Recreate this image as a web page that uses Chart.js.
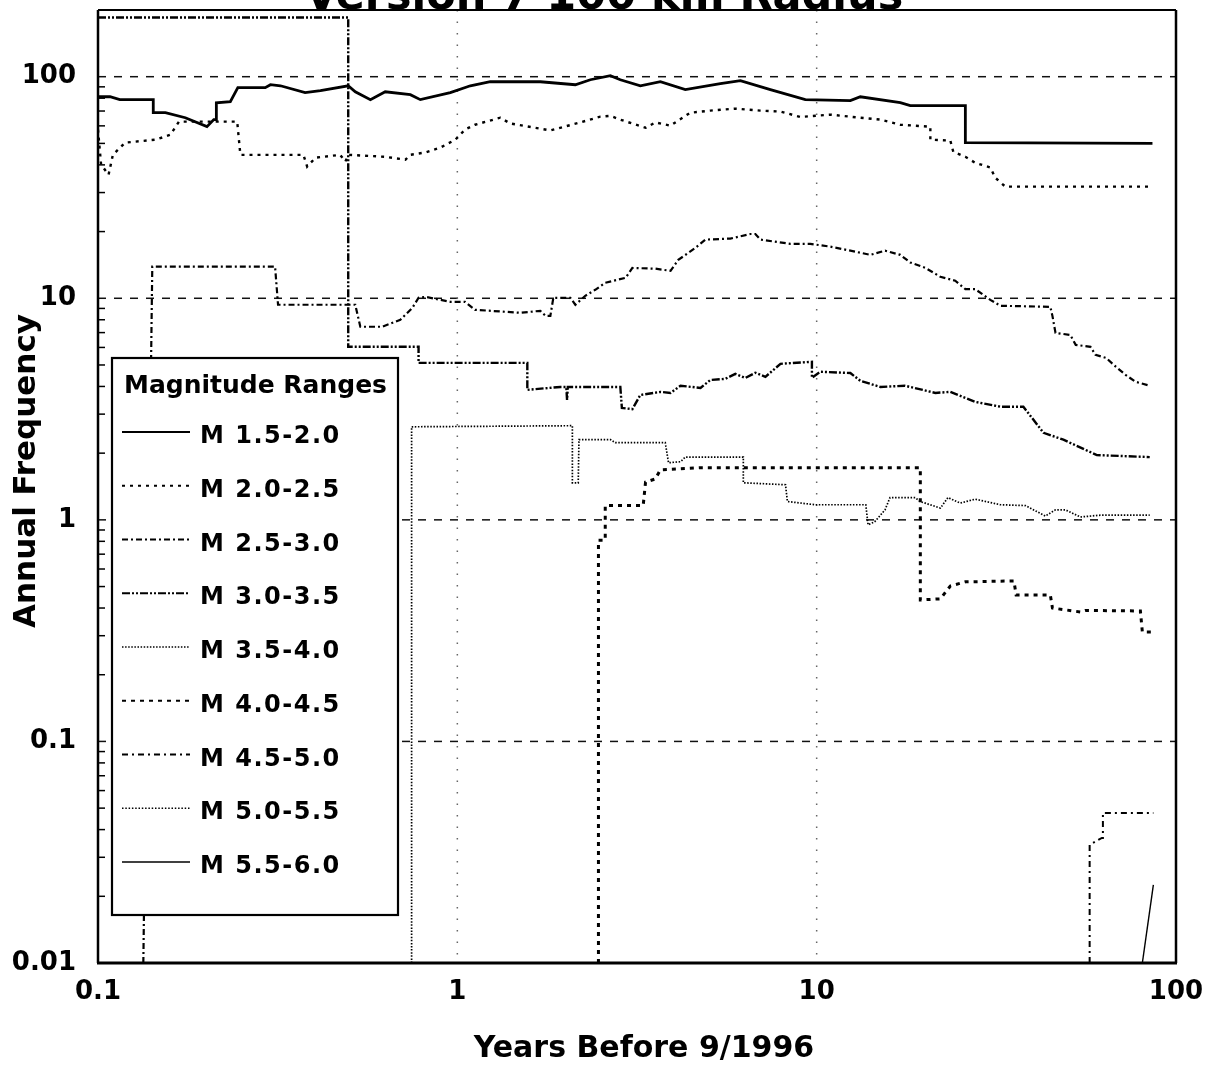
<!DOCTYPE html>
<html>
<head>
<meta charset="utf-8">
<script src="https://cdn.jsdelivr.net/npm/chart.js@4/dist/chart.umd.min.js"></script>
<style>
  html, body { margin: 0; background: #fff; }
  canvas { display: block; }
</style>
</head>
<body>
<canvas id="frecuencia_anual" width="1222" height="1066"></canvas>
<script>
// Years before 9/1996 vs annual frequency, one list of [years, frequency] per band
const m15 = [[0.1, 81.2], [0.108, 81.2], [0.115, 78.8], [0.1425, 78.8], [0.1425, 68.8], [0.154, 68.8], [0.175, 65.3],
  [0.201, 59.5], [0.21, 64], [0.2135, 64], [0.2135, 76.3], [0.2335, 77.1], [0.245, 89.2], [0.292, 89.2], [0.302, 92],
  [0.322, 91], [0.377, 84.7], [0.416, 86.5], [0.497, 91], [0.52, 85.5], [0.573, 78.8], [0.63, 85.5], [0.74, 83],
  [0.789, 78.8], [0.956, 84.7], [1.087, 91], [1.235, 94.9], [1.702, 94.9], [2.13, 92], [2.345, 96.9], [2.666, 101],
  [2.842, 96.9], [3.231, 91], [3.673, 94.9], [4.31, 87.4], [5.395, 93], [6.133, 96], [7.433, 87.4], [9.3, 78.8],
  [12.41, 78], [13.23, 81.2], [17.09, 76.3], [18.22, 74], [25.93, 74], [25.93, 50.4], [86, 50]];
const m20 = [[0.1, 57.7], [0.102, 40.1], [0.107, 36.1], [0.11, 44.4], [0.119, 50.4], [0.145, 52], [0.159, 54.7],
  [0.168, 62.7], [0.244, 62.7], [0.249, 44.4], [0.373, 44.4], [0.382, 39.3], [0.403, 43.1], [0.472, 44.4],
  [0.488, 41.4], [0.497, 44.4], [0.63, 43.5], [0.717, 42.2], [0.74, 44.4], [0.815, 45.5], [0.897, 47.9], [0.988, 52],
  [1.05, 57.7], [1.12, 60.7], [1.317, 65.3], [1.404, 61.5], [1.815, 57.2], [2.199, 62.2], [2.5, 66], [2.666, 66.6],
  [2.842, 64], [3.34, 58.8], [3.56, 62.2], [3.916, 60.1], [4.451, 68.8], [5.06, 70.3], [5.94, 71.8], [6.97, 70.3],
  [7.93, 69.6], [9.01, 65.8], [10.92, 67.4], [13.23, 65.3], [15.04, 64], [17.09, 60.7], [20.72, 59.5], [20.72, 52],
  [23.55, 51.5], [24, 45.8], [25.93, 43.5], [27.6, 40.9], [30.43, 38.9], [31.4, 35], [33.5, 31.9], [85, 31.9]];
const m25 = [[0.1337, 0.01], [0.1416, 13.9], [0.311, 13.9], [0.317, 9.35], [0.52, 9.35], [0.537, 7.44], [0.618, 7.44],
  [0.694, 8.0], [0.75, 9.06], [0.78, 10.05], [0.815, 10.15], [0.956, 9.64], [1.05, 9.64], [1.12, 8.87], [1.497, 8.6],
  [1.702, 8.78], [1.76, 8.33], [1.815, 8.33], [1.85, 10.05], [2.063, 10.05], [2.13, 9.35], [2.27, 10.26],
  [2.42, 10.92], [2.58, 11.75], [2.94, 12.37], [3.07, 13.7], [3.56, 13.6], [3.92, 13.3], [4.12, 14.9], [4.6, 16.9],
  [4.9, 18.4], [5.75, 18.6], [6.54, 19.5], [6.75, 19.5], [6.97, 18.4], [8.45, 17.6], [9.6, 17.6], [10.92, 17.1],
  [12.41, 16.4], [14.1, 15.7], [15.5, 16.4], [17.09, 15.7], [18.22, 14.5], [20.1, 13.7], [22.09, 12.5], [24.3, 12.0],
  [25.93, 11.0], [27.6, 11.0], [30.43, 9.84], [32.45, 9.25], [44.7, 9.15], [45.3, 8.33], [46.2, 6.98], [50.8, 6.83],
  [52.6, 6.16], [57.8, 6.04], [59.7, 5.56], [63.9, 5.38], [68.1, 4.9], [72.4, 4.51], [77.1, 4.2], [84.5, 4.03]];
const m30 = [[0.1, 185], [0.497, 185], [0.497, 6.04], [0.78, 6.04], [0.78, 5.11], [1.566, 5.11], [1.566, 3.86],
  [1.935, 3.98], [2.01, 3.98], [2.02, 3.48], [2.03, 3.98], [2.842, 3.98], [2.87, 3.2], [3.07, 3.16], [3.23, 3.66],
  [3.67, 3.78], [3.92, 3.74], [4.18, 4.03], [4.75, 3.94], [5.06, 4.28], [5.57, 4.33], [5.94, 4.56], [6.33, 4.37],
  [6.75, 4.61], [7.2, 4.42], [7.93, 5.06], [9.7, 5.17], [9.7, 4.38], [10.24, 4.66], [12.41, 4.6], [13.23, 4.24],
  [15.04, 3.98], [17.6, 4.03], [21.4, 3.74], [23.55, 3.78], [27.6, 3.41], [32.45, 3.24], [37.6, 3.24], [42.8, 2.47],
  [48.6, 2.3], [60.2, 1.96], [84.5, 1.92]];
const m35 = [[0.746, 0.01], [0.746, 2.63], [2.09, 2.66], [2.09, 1.47], [2.17, 1.47], [2.18, 2.3], [2.67, 2.3],
  [2.75, 2.23], [3.79, 2.23], [3.87, 1.81], [4.18, 1.83], [4.31, 1.92], [6.25, 1.92], [6.25, 1.47], [8.19, 1.44],
  [8.29, 1.21], [9.9, 1.17], [13.7, 1.17], [13.9, 0.95], [14.5, 0.98], [15.5, 1.11], [16.0, 1.26], [18.8, 1.26],
  [19.4, 1.21], [22.1, 1.13], [23.2, 1.26], [25.1, 1.19], [27.6, 1.24], [32.45, 1.17], [38.1, 1.16], [43.3, 1.04],
  [46.2, 1.11], [49.2, 1.11], [54.2, 1.03], [61.6, 1.05], [84.5, 1.05]];
const m40 = [[2.47, 0.01], [2.47, 0.81], [2.58, 0.81], [2.58, 1.16], [3.29, 1.16], [3.34, 1.48], [3.56, 1.53],
  [3.67, 1.68], [4.18, 1.70], [4.75, 1.72], [19.43, 1.72], [19.43, 0.435], [22.1, 0.44], [23.55, 0.503],
  [25.93, 0.525], [35.4, 0.53], [35.9, 0.458], [44.7, 0.458], [45.3, 0.40], [54.2, 0.384], [55.9, 0.39],
  [79.6, 0.388], [80.6, 0.312], [86, 0.312]];
const m45 = [[57.5, 0.01], [57.5, 0.0341], [62.2, 0.0367], [62.6, 0.0367], [62.6, 0.0475], [86.5, 0.0475]];
const m50 = [];
const m55 = [[80.6, 0.01], [86.5, 0.0225]];

const magnitudes = ['M 1.5-2.0', 'M 2.0-2.5', 'M 2.5-3.0', 'M 3.0-3.5', 'M 3.5-4.0',
  'M 4.0-4.5', 'M 4.5-5.0', 'M 5.0-5.5', 'M 5.5-6.0'];
const series = [m15, m20, m25, m30, m35, m40, m45, m50, m55];

const xTicks = [0.1, 1, 10, 100];
const xTickLabels = ['0.1', '1', '10', '100'];
const yTicks = [0.01, 0.1, 1, 10, 100];
const yTickLabels = ['0.01', '0.1', '1', '10', '100'];

const chartTitle = 'Version 7 100 km Radius';
const xTitle = 'Years Before 9/1996';
const yTitle = 'Annual Frequency';
const legendTitle = 'Magnitude Ranges';

// pen for each magnitude band
const estilos = [
  { width: 2.8, dash: [] },
  { width: 2.4, dash: [3, 5] },
  { width: 2.2, dash: [6, 3, 2, 3] },
  { width: 2.4, dash: [8, 2, 2, 2, 2, 2] },
  { width: 1.7, dash: [1.5, 1.6] },
  { width: 3, dash: [4, 5] },
  { width: 2, dash: [6, 4, 2, 4] },
  { width: 1.6, dash: [1.5, 1.8] },
  { width: 1.4, dash: [] }
];

const FONT = '"DejaVu Sans", "Liberation Sans", sans-serif';

function linea(ctx, x1, y1, x2, y2) {
  ctx.beginPath();
  ctx.moveTo(x1, y1);
  ctx.lineTo(x2, y2);
  ctx.stroke();
}

const decorado = {
  id: 'decorado',
  beforeDatasetsDraw(chart) {
    const { ctx, chartArea: a, scales: { x, y } } = chart;
    ctx.save();
    // dashed lines at each decade of frequency
    ctx.strokeStyle = '#111';
    ctx.lineWidth = 1.5;
    ctx.setLineDash([8, 8]);
    yTicks.forEach(v => {
      if (v <= y.min || v >= y.max) return;
      const py = y.getPixelForValue(v);
      linea(ctx, a.left, py, a.right, py);
    });
    // faint dotted lines at 1 and 10 years
    ctx.setLineDash([1.5, 10]);
    ctx.strokeStyle = '#666';
    xTicks.forEach(v => {
      if (v <= x.min || v >= x.max) return;
      const px = x.getPixelForValue(v);
      linea(ctx, px, a.top, px, a.bottom);
    });
    ctx.restore();
  },
  afterDatasetsDraw(chart) {
    const { ctx, chartArea: a, scales: { y } } = chart;
    ctx.save();
    ctx.setLineDash([]);
    ctx.strokeStyle = '#000';
    ctx.fillStyle = '#000';

    // minor ticks on the frequency axis
    ctx.lineWidth = 1.5;
    yTicks.forEach(d => {
      for (let k = 2; k <= 9; k++) {
        const v = k * d;
        if (v >= y.max) break;
        const py = y.getPixelForValue(v);
        linea(ctx, a.left, py, a.left + 7, py);
      }
    });

    // frame
    ctx.lineWidth = 2.5;
    linea(ctx, a.left, a.top, a.left, a.bottom);
    linea(ctx, a.right, a.top, a.right, a.bottom);
    ctx.lineWidth = 2;
    linea(ctx, a.left, a.top, a.right, a.top);
    ctx.lineWidth = 3;
    linea(ctx, a.left - 1, a.bottom, a.right + 1, a.bottom);

    // legend box
    const lx = 112, ly = 358, lw = 286, lh = 557;
    ctx.fillStyle = '#fff';
    ctx.fillRect(lx, ly, lw, lh);
    ctx.lineWidth = 2.2;
    ctx.strokeRect(lx, ly, lw, lh);
    ctx.fillStyle = '#000';
    ctx.textAlign = 'left';
    ctx.textBaseline = 'alphabetic';
    ctx.font = 'bold 25px ' + FONT;
    ctx.fillText(legendTitle, 124, 393);
    ctx.font = 'bold 24px ' + FONT;
    ctx.letterSpacing = '1.5px';
    chart.data.datasets.forEach((ds, i) => {
      const yb = 443 + i * 53.75;
      ctx.setLineDash(ds.borderDash);
      ctx.lineWidth = Math.min(ds.borderWidth, 2);
      linea(ctx, 122, yb - 11, 190, yb - 11);
      ctx.setLineDash([]);
      ctx.fillText(ds.label, 200, yb);
    });
    ctx.letterSpacing = '0px';

    // title runs off the top edge
    ctx.font = 'bold 43px ' + FONT;
    ctx.textAlign = 'center';
    ctx.fillText(chartTitle, 604, 9);

    // axis titles
    ctx.font = 'bold 30px ' + FONT;
    ctx.fillText(xTitle, 644, 1057);
    ctx.font = 'bold 31px ' + FONT;
    ctx.translate(27, 471);
    ctx.rotate(-Math.PI / 2);
    ctx.textBaseline = 'middle';
    ctx.fillText(yTitle, 0, 0);
    ctx.restore();
  }
};

const datasets = magnitudes.map((label, i) => ({
  label: label,
  data: series[i].map(([x, y]) => ({ x: x, y: y })),
  showLine: true,
  borderColor: '#000',
  borderWidth: estilos[i].width,
  borderDash: estilos[i].dash,
  pointRadius: 0,
  fill: false,
  tension: 0
}));

const tickFont = { family: FONT, size: 26, weight: 'bold' };

const ctx = document.getElementById('frecuencia_anual').getContext('2d');
const chart = new Chart(ctx, {
  type: 'scatter',
  data: { datasets: datasets },
  options: {
    responsive: false,
    animation: false,
    events: [],
    layout: { padding: { top: 10, right: 46, left: 0, bottom: 0 } },
    plugins: { legend: { display: false }, tooltip: { enabled: false } },
    scales: {
      x: {
        type: 'logarithmic',
        position: 'bottom',
        min: 0.1,
        max: 100,
        grid: { display: false, drawTicks: false },
        border: { display: false },
        afterBuildTicks: s => { s.ticks = xTicks.map(v => ({ value: v })); },
        afterFit: s => { s.height = 103; s.paddingLeft = 0; s.paddingRight = 0; },
        ticks: {
          color: '#000',
          font: tickFont,
          padding: 14,
          maxRotation: 0,
          autoSkip: false,
          callback: (v, i) => xTickLabels[i]
        }
      },
      y: {
        type: 'logarithmic',
        position: 'left',
        min: 0.01,
        max: 200,
        grid: { display: false, drawTicks: false },
        border: { display: false },
        afterBuildTicks: s => { s.ticks = yTicks.map(v => ({ value: v })); },
        afterFit: s => { s.width = 98; s.paddingTop = 0; s.paddingBottom = 0; },
        ticks: {
          color: '#000',
          font: tickFont,
          padding: 22,
          autoSkip: false,
          callback: (v, i) => yTickLabels[i]
        }
      }
    }
  },
  plugins: [decorado]
});
</script>
</body>
</html>
